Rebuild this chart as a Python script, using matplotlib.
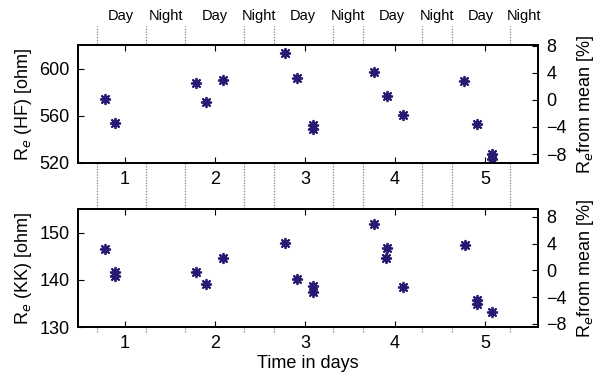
import matplotlib
matplotlib.use("Agg")
import matplotlib.pyplot as plt
import matplotlib.transforms as mtransforms
from matplotlib.lines import Line2D

plt.rcParams['font.family'] = ['Liberation Sans', 'DejaVu Sans']

# ---- data ----
hf_t = [0.778, 0.889, 1.785, 1.900, 2.093, 2.778, 2.907, 3.085, 3.085, 3.770, 3.907, 4.085, 4.770, 4.907, 5.081, 5.081]
hf_v = [574.6, 554.2, 587.5, 572.0, 590.0, 613.5, 591.8, 552.0, 548.5, 597.5, 576.8, 560.4, 589.5, 553.4, 527.4, 523.5]
kk_t = [0.778, 0.889, 0.889, 1.785, 1.900, 2.093, 2.778, 2.907, 3.085, 3.085, 3.770, 3.910, 3.905, 4.085, 4.780, 4.907, 4.907, 5.081]
kk_v = [146.5, 141.7, 140.9, 141.8, 139.1, 144.7, 147.9, 140.15, 138.7, 137.5, 152.0, 146.7, 144.7, 138.6, 147.35, 135.7, 134.9, 133.2]
hf_mean = 573.5
kk_mean = 142.05
boundaries = [0.685, 1.233, 1.67, 2.326, 2.652, 3.31, 3.64, 4.30, 4.63, 5.28]
period_labels = ["Day", "Night", "Day", "Night", "Day", "Night", "Day", "Night", "Day", "Night"]
x_ticks = [1, 2, 3, 4, 5]
hf_ticks = [520, 560, 600]
kk_ticks = [130, 140, 150]
pct_ticks = [-8, -4, 0, 4, 8]

xlim = (0.478, 5.59)
color = '#271a72'

fig = plt.figure(figsize=(6.01, 3.78), dpi=100)
ax1 = fig.add_axes([0.1298, 0.5688, 0.7655, 0.3122])
ax2 = fig.add_axes([0.1298, 0.1349, 0.7655, 0.3122])

def style(ax, ylim, yticks, ylabel, mean, t, v, xlabel=None):
    ax.set_xlim(*xlim)
    ax.set_ylim(*ylim)
    ax.set_xticks(x_ticks)
    ax.set_yticks(yticks)
    ax.tick_params(direction='in', top=True, right=False, labelsize=13, length=4, width=0.8, pad=6)
    for s in ax.spines.values():
        s.set_linewidth(1.3)
    ax.set_ylabel(ylabel, fontsize=13, labelpad=4)
    if xlabel:
        ax.set_xlabel(xlabel, fontsize=13, labelpad=2)
    ax.plot(t, v, linestyle='none', marker=(8, 2, 0), markersize=8, mew=1.2, color=color, zorder=3)
    ax.plot(t, v, linestyle='none', marker='o', markersize=5, color=color, zorder=3)
    axr = ax.twinx()
    axr.set_ylim(ylim[0] / mean * 100 - 100, ylim[1] / mean * 100 - 100)
    axr.set_yticks(pct_ticks)
    axr.tick_params(direction='in', labelsize=13, length=4, width=0.8, pad=6)
    axr.set_ylabel(r'R$_e$from mean [%]', fontsize=13, labelpad=6)
    for s in axr.spines.values():
        s.set_linewidth(1.3)
    return axr

style(ax1, (520, 620), hf_ticks, r'R$_e$ (HF) [ohm]', hf_mean, hf_t, hf_v)
style(ax2, (130, 155.1), kk_ticks, r'R$_e$ (KK) [ohm]', kk_mean, kk_t, kk_v, xlabel='Time in days')

trans = mtransforms.blended_transform_factory(ax1.transData, fig.transFigure)
y_top = 1 - 26 / 378
y_bot = 1 - 332 / 378
for b in boundaries:
    fig.add_artist(Line2D([b, b], [y_bot, y_top], transform=trans, color='#808080',
                          linestyle=(0, (1, 1.2)), linewidth=0.9, zorder=0))
ext = boundaries + [xlim[1]]
for i, lab in enumerate(period_labels):
    xm = (ext[i] + ext[i + 1]) / 2
    fig.text(xm, 1 - 16 / 378, lab, transform=trans, ha='center', va='center', fontsize=10.5)

fig.savefig('out.png', dpi=100)
